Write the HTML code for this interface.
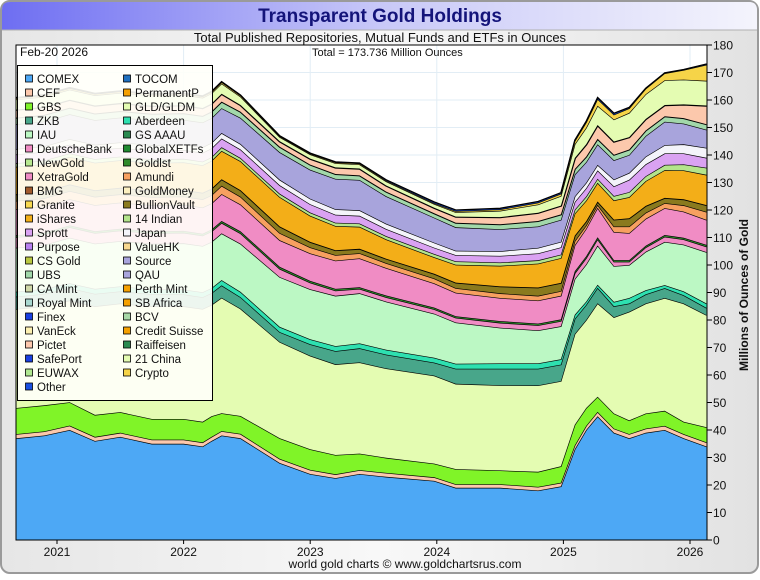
<!DOCTYPE html>
<html><head><meta charset="utf-8"><style>
html,body{margin:0;padding:0;background:#fff;}
#frame{position:absolute;left:0;top:0;width:760px;height:575px;}
</style></head><body>
<div id="frame">
<svg id="svg" width="760" height="575" xmlns="http://www.w3.org/2000/svg" font-family="Liberation Sans, sans-serif">
<defs>
<linearGradient id="tg" x1="0" x2="1" y1="0" y2="0"><stop offset="0" stop-color="#6e6ef2"/><stop offset="0.5" stop-color="#c8c8f8"/><stop offset="1" stop-color="#f4f4fc"/></linearGradient>
<linearGradient id="bg" x1="0" x2="1" y1="0" y2="0"><stop offset="0" stop-color="#e6e6e6"/><stop offset="0.5" stop-color="#f8f8f8"/><stop offset="1" stop-color="#e2e2e2"/></linearGradient>
</defs>
<rect x="1" y="1" width="757" height="572" rx="9" fill="url(#bg)" stroke="#9a9a9a" stroke-width="2"/>
<path d="M2,30 L2,10 Q2,2 10,2 L749,2 Q757,2 757,10 L757,30 Z" fill="url(#tg)"/>
<line x1="2" y1="30" x2="757" y2="30" stroke="#b0b0b0"/>
<text x="380" y="22" text-anchor="middle" font-size="19" font-weight="bold" fill="#14147a">Transparent Gold Holdings</text>
<text x="380" y="42" text-anchor="middle" font-size="13" fill="#111">Total Published Repositories, Mutual Funds and ETFs in Ounces</text>
<rect x="16" y="45" width="691" height="495" fill="#fff"/>
<g id="grid"></g>
<g id="areas"></g>
<rect x="16" y="45" width="691" height="495" fill="none" stroke="#000" stroke-width="1"/>
<text x="20" y="56" font-size="12" fill="#111">Feb-20  2026</text>
<text x="312" y="56" font-size="11" fill="#111">Total = 173.736 Million Ounces</text>
<g id="axes"></g>
<text transform="translate(748,295) rotate(-90)" text-anchor="middle" font-size="12" font-weight="bold" fill="#111">Millions of Ounces of Gold</text>
<text x="405" y="568" text-anchor="middle" font-size="12" fill="#111">world gold charts © www.goldchartsrus.com</text>
<g id="legend"></g>
</svg>
</div>
<script>
const dates = [2020.68,2020.9,2021.1,2021.3,2021.5,2021.75,2022.0,2022.15,2022.22,2022.3,2022.45,2022.76,2023.0,2023.2,2023.39,2023.6,2023.98,2024.15,2024.5,2024.8,2024.98,2025.09,2025.18,2025.27,2025.4,2025.52,2025.65,2025.8,2025.95,2026.13];
const comex = [37,38,40,36,37.5,35,35,34,36,38,37,28,24,22.5,24,23,21.5,19,19,18,19.5,33,40,45,39,37,39,40,37,34];
const cef = [1.5,1.5,1.6,1.5,1.5,1.5,1.5,1.5,1.5,1.6,1.6,1.5,1.5,1.4,1.4,1.4,1.3,1.3,1.3,1.3,1.3,1.4,1.5,1.6,1.5,1.5,1.5,1.5,1.5,1.5];
const gbs = [9.5,9.5,8.5,8,7.5,7.5,7.5,7.5,7.5,6.5,6.5,7.5,7.5,7,6,5.5,5,5.5,5,5.5,6,7.5,6.5,5.5,5.5,5,5.5,5.5,4.5,5.5];
const gld = [36,36,37,39.5,39.5,41,41,41,40.5,42,39,35,34,33,33.2,32.5,32,31,31,31.4,31,33,32,34,35,39.5,40,41,43,40.8];
const zkb = [4.5,4.5,4.5,4.5,4.4,4.4,4.3,4.3,4.3,4.5,4.2,3.6,4.2,4.8,5.1,5,4.7,5.5,6,6.1,6,5.5,5.5,5.6,4,3,3.3,3.6,3,2.6];
const aberdeen = [1.8,1.8,1.8,1.8,1.8,1.8,1.8,1.8,1.8,1.9,1.9,1.9,1.8,1.8,1.8,1.8,1.8,1.8,1.9,1.9,1.9,1.5,1.2,1.1,1.6,2,1.5,1.1,1.4,1.6];
const iau = [16,16,16.5,16.5,16.5,16.5,16.8,16.8,16.8,17,17.5,18.1,18.2,18.3,18.2,17.5,16,15,13,12,12,13,13.5,14.3,13,12,14,15.7,17,18.7];
const deutsche = [3.8,3.8,3.8,3.8,3.8,3.8,3.8,3.8,3.8,3.8,3.8,3,2.4,1.9,1.6,1.6,1.6,1.7,1.8,1.9,1.9,2.1,2.3,2.3,1.6,1.2,1.6,1.9,1.9,2];
const goldlst = [0.7,0.7,0.7,0.7,0.7,0.7,0.7,0.7,0.7,0.7,0.7,0.7,0.6,0.6,0.6,0.6,0.6,0.6,0.6,0.6,0.6,0.7,0.7,0.7,0.6,0.6,0.6,0.6,0.6,0.6];
const xetra = [9.5,9.5,9.5,9.5,9.5,9.5,9.5,9.5,9.5,9.8,9.8,9.7,10,10.3,10.5,10,8.8,8.5,8.4,8.4,8.6,9.5,10,10.7,10.2,9.8,9.8,9.8,9.5,9.1];
const amundi = [3,3,3,3,3,3,3,3,3,3,2.8,2.6,2.2,2,1.9,1.8,1.8,1.7,1.7,1.7,1.7,1.5,1.2,1.1,2,2.4,2.2,1.8,2.3,2.9];
const bullionVault = [2.4,2.4,2.4,2.4,2.4,2.4,2.4,2.4,2.4,2.4,2.4,2.4,2,1.8,1.6,1.6,1.7,2,2.5,3,3,2,1.5,1.2,2.5,3,2.5,1.9,2.2,2.5];
const ishares = [10,10,10,10,10,10,10,10,10.1,10.3,10.5,10.7,9.5,8.8,8,7,6,6.5,7.5,8.7,9,8,7.5,6.8,7,7.7,9,10.1,10.5,11];
const indian = [1.3,1.3,1.3,1.3,1.3,1.3,1.3,1.3,1.3,1.3,1.2,1.2,1.2,1.2,1.2,1.2,1.2,1.2,1.2,1.2,1.3,1.4,1.5,1.5,1.6,1.8,1.8,1.9,2.2,2.6];
const sprott = [3.2,3.2,3.2,3.2,3.2,3.2,3.2,3.2,3.2,3.2,3.1,3.1,3,2.9,2.8,2.6,2.3,2.3,2.4,2.5,2.6,2.8,3,3,3.5,4.5,4.3,4.2,4,3.6];
const japan = [2,2,2,2,2,2,2,2,2,2,2,2,2,2,2,1.9,1.8,1.6,1.7,2,2,2,2,2,2.5,2.5,2.8,3,3.3,3.6];
const qau = [9,9,9,9,9,9,9,9,9,9,9.5,10,10.5,11,11,10,9.1,8.5,8,7.8,8,8,7.5,7.5,7,6.5,7.5,8.5,7.5,6.6];
const ubs = [2.4,2.4,2.4,2.4,2.4,2.4,2.4,2.4,2.4,2.4,2.2,2,1.9,1.8,1.7,1.7,1.6,1.7,1.8,2,2,2,2,2,2,2,2,2,2,2];
const pictet = [2.9,2.9,2.9,2.9,2.9,2.9,2.9,2.9,2.9,2.9,2.5,2,2.2,2.4,2.5,2.2,2,2.2,2.6,3,3.2,4,4.5,5,4.8,4.5,4.2,4.1,5,6.8];
const china21 = [3.7,3.7,3.7,3.7,3.7,3.7,3.7,3.7,3.7,3.7,3,1.5,1.5,1.5,1.5,1.5,1.4,1.6,2.3,3,3.5,5,6,7,8,8.8,9,9,9,9];
const crypto = [0.5,0.5,0.5,0.5,0.5,0.5,0.5,0.5,0.5,0.5,0.4,0.3,0.3,0.3,0.3,0.3,0.3,0.4,0.5,0.7,0.8,1.2,2,2.5,1.8,1.7,2,2.5,3.5,5.8];
const other = [0.2,0.2,0.2,0.2,0.2,0.2,0.2,0.2,0.2,0.2,0.2,0.2,0.2,0.2,0.2,0.3,0.4,0.4,0.4,0.4,0.4,0.3,0.4,0.5,0.5,0.3,0.2,0.2,0.2,0.3];
const seriesNames = ['COMEX','CEF','GBS','GLD/GLDM','ZKB','Aberdeen','IAU','DeutscheBank','Goldlst','XetraGold','Amundi','BullionVault','iShares','14 Indian','Sprott','Japan','QAU','UBS','Pictet','21 China','Crypto','Other'];
const yTicks = [0,10,20,30,40,50,60,70,80,90,100,110,120,130,140,150,160,170,180];
const xTickYears = [2021,2022,2023,2024,2025,2026];
const legendCol1 = ['COMEX','CEF','GBS','ZKB','IAU','DeutscheBank','NewGold','XetraGold','BMG','Granite','iShares','Sprott','Purpose','CS Gold','UBS','CA Mint','Royal Mint','Finex','VanEck','Pictet','SafePort','EUWAX','Other'];
const legendCol2 = ['TOCOM','PermanentP','GLD/GLDM','Aberdeen','GS AAAU','GlobalXETFs','Goldlst','Amundi','GoldMoney','BullionVault','14 Indian','Japan','ValueHK','Source','QAU','Perth Mint','SB Africa','BCV','Credit Suisse','Raiffeisen','21 China','Crypto'];

const series = [comex,cef,gbs,gld,zkb,aberdeen,iau,deutsche,goldlst,xetra,amundi,bullionVault,ishares,indian,sprott,japan,qau,ubs,pictet,china21,crypto,other];
const colors = {'COMEX':'#4da8f5','CEF':'#fcc8ac','GBS':'#80f428','GLD/GLDM':'#e4fcb2','ZKB':'#48a68a','Aberdeen':'#2ee0b0','IAU':'#bcf8c4','DeutscheBank':'#f08cc4','Goldlst':'#2f8a2a','XetraGold':'#f08cc4','Amundi':'#f7a060','BullionVault':'#8a7a1e','iShares':'#f3ae18','14 Indian':'#b4e48c','Sprott':'#daa2f2','Japan':'#f4f4fa','QAU':'#a8a4dc','UBS':'#a2d8aa','Pictet':'#fcc8ac','21 China':'#e4fcb2','Crypto':'#f6d448','Other':'#1a4fe0',
'TOCOM':'#2070c0','PermanentP':'#f5a000','NewGold':'#b8e890','BMG':'#a05a2c','Granite':'#f8d850','Purpose':'#b880f0','CS Gold':'#b8c840','CA Mint':'#d0d8a8','Royal Mint':'#a8d8d0','Finex':'#1a40e0','VanEck':'#fcf0b0','SafePort':'#1a40e0','EUWAX':'#b0e890','GS AAAU':'#2a8a50','GlobalXETFs':'#208a30','GoldMoney':'#fcf0c0','ValueHK':'#f8d890','Source':'#a8a4dc','Perth Mint':'#f5a000','SB Africa':'#f5a000','BCV':'#a8d8a8','Credit Suisse':'#f5a000','Raiffeisen':'#2a8a50'};
const heavyEdges = {'Pictet':2.4,'UBS':2,'BullionVault':1.8};

const NS='http://www.w3.org/2000/svg';
function xs(t){return 57+(t-2021)*126.6;}
function ys(v){return 540-v*2.75;}
function mk(tag,attrs,parent){const e=document.createElementNS(NS,tag);for(const k in attrs)e.setAttribute(k,attrs[k]);parent.appendChild(e);return e;}

const grid=document.getElementById('grid');
yTicks.forEach(v=>{ if(v===0||v===180) return;
  const l=mk('line',{x1:16,x2:707,y1:ys(v),y2:ys(v),stroke:'#e2edf5','stroke-width':1},grid);
  
  
});
xTickYears.forEach(yr=>{
  const l=mk('line',{x1:xs(yr),x2:xs(yr),y1:45,y2:540,stroke:'#e2edf5','stroke-width':1},grid);
  
  
});

const areas=document.getElementById('areas');
let base=dates.map(()=>0);
series.forEach((s,i)=>{
  const top=base.map((b,j)=>b+s[j]);
  let d='M'+dates.map((t,j)=>xs(t).toFixed(1)+','+ys(top[j]).toFixed(1)).join(' L');
  for(let j=dates.length-1;j>=0;j--) d+=' L'+xs(dates[j]).toFixed(1)+','+ys(base[j]).toFixed(1);
  d+=' Z';
  const p=mk('path',{d:d,fill:colors[seriesNames[i]]},areas);
  
  
  const ln=mk('polyline',{points:dates.map((t,j)=>xs(t).toFixed(1)+','+ys(top[j]).toFixed(1)).join(' '),fill:'none',stroke:'#000','stroke-width':(heavyEdges[seriesNames[i]]||1.3)},areas);
  
  
  base=top;
});

const axes=document.getElementById('axes');
yTicks.forEach(v=>{
  const tk=mk('line',{x1:707,x2:712,y1:ys(v),y2:ys(v),stroke:'#000'},axes);
  
  
  const tx=mk('text',{x:713,y:ys(v)+4.5,'font-size':12,fill:'#111'},axes);
  tx.textContent=String(v);
  
  
});
xTickYears.forEach(yr=>{
  const tk=mk('line',{x1:xs(yr),x2:xs(yr),y1:540,y2:544,stroke:'#000'},axes);
  
  
  const tx=mk('text',{x:xs(yr),y:556,'font-size':12,fill:'#111','text-anchor':'middle'},axes);
  tx.textContent=String(yr);
  
  
});

const lg=document.getElementById('legend');
const box=mk('rect',{x:17.5,y:65.5,width:195,height:335,fill:'#fffffa','fill-opacity':0.9,stroke:'#000','stroke-width':1},lg);


function addEntry(name,i,sx,tx){
  const cy=79+i*14;
  const sw=mk('rect',{x:sx,y:cy-4,width:7,height:7,fill:colors[name]||'#ccc',stroke:'#000','stroke-width':0.8},lg);
  
  
  const t=mk('text',{x:tx,y:cy+4,'font-size':11.5,fill:'#111'},lg);
  t.textContent=name;
  
  
}
legendCol1.forEach((n,i)=>addEntry(n,i,25.5,37));
legendCol2.forEach((n,i)=>addEntry(n,i,123.5,135));
</script>
</body></html>
